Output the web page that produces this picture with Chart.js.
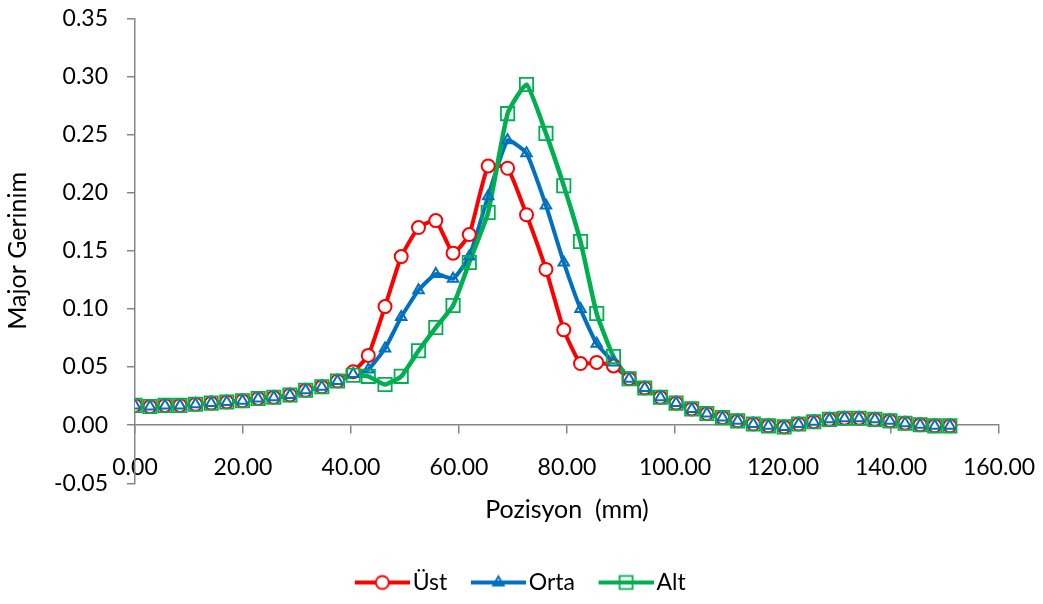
<!DOCTYPE html>
<html><head><meta charset="utf-8">
<script src="https://cdn.jsdelivr.net/npm/chart.js@4.4.1/dist/chart.umd.min.js"></script>
<style>html,body{margin:0;padding:0;background:#fff;} canvas{display:block;}</style>
</head><body>
<canvas id="c" width="1043" height="604"></canvas>
<script>
// Positions along the specimen (mm)
const positions = [0, 2.78, 5.56, 8.33, 11.2, 14.1, 17.0, 19.9, 22.8, 25.7, 28.7, 31.6, 34.6, 37.5,
  40.4, 43.2, 46.3, 49.3, 52.5, 55.7, 58.9, 61.9, 65.4, 69.0, 72.5, 76.1, 79.4, 82.5, 85.5, 88.6, 91.5,
  94.4, 97.3, 100.2, 103.1, 105.9, 108.8, 111.6, 114.5, 117.3, 120.2, 122.9, 125.7, 128.6, 131.4,
  134.1, 137.0, 139.8, 142.6, 145.4, 148.1, 150.9];

const ust = [0.017, 0.016, 0.017, 0.017, 0.018, 0.019, 0.020, 0.021, 0.023, 0.024, 0.026, 0.030, 0.033, 0.038,
  0.046, 0.060, 0.102, 0.145, 0.170, 0.176, 0.148, 0.164, 0.223, 0.221, 0.181, 0.134, 0.082, 0.053, 0.054, 0.051, 0.040,
  0.032, 0.024, 0.019, 0.014, 0.010, 0.0065, 0.0037, 0.001, -0.0006, -0.0015, 0.001, 0.003, 0.005, 0.006,
  0.006, 0.005, 0.0037, 0.0017, 0.0003, -0.0006, -0.0006];

const orta = [0.017, 0.016, 0.017, 0.017, 0.018, 0.019, 0.020, 0.021, 0.023, 0.024, 0.026, 0.030, 0.033, 0.038,
  0.044, 0.048, 0.066, 0.093, 0.116, 0.130, 0.126, 0.145, 0.197, 0.245, 0.234, 0.189, 0.140, 0.100, 0.070, 0.054, 0.040,
  0.032, 0.024, 0.019, 0.014, 0.010, 0.0065, 0.0037, 0.001, -0.0006, -0.0015, 0.001, 0.003, 0.005, 0.006,
  0.006, 0.005, 0.0037, 0.0017, 0.0003, -0.0006, -0.0006];

const alt = [0.017, 0.016, 0.017, 0.017, 0.018, 0.019, 0.020, 0.021, 0.023, 0.024, 0.026, 0.030, 0.033, 0.038,
  0.043, 0.042, 0.035, 0.042, 0.064, 0.084, 0.103, 0.140, 0.183, 0.268, 0.293, 0.251, 0.206, 0.158, 0.096, 0.059, 0.040,
  0.032, 0.024, 0.019, 0.014, 0.010, 0.0065, 0.0037, 0.001, -0.0006, -0.0015, 0.001, 0.003, 0.005, 0.006,
  0.006, 0.005, 0.0037, 0.0017, 0.0003, -0.0006, -0.0006];

const seriesNames = ['Üst', 'Orta', 'Alt'];
const xTickValues = [0, 20, 40, 60, 80, 100, 120, 140, 160];
const yTickValues = [-0.05, 0, 0.05, 0.10, 0.15, 0.20, 0.25, 0.30, 0.35];
const xTitle = 'Pozisyon  (mm)';
const yTitle = 'Major Gerinim';

const colors = ['#FF0000', '#0070C0', '#00B050'];
const styles = [
  {pointStyle: 'circle', radius: 6.5, bg: '#FFFFFF', bw: 2},
  {pointStyle: 'triangle', radius: 6, bg: 'rgba(0,0,0,0)', bw: 2},
  {pointStyle: 'rect', radius: 9.4, bg: 'rgba(0,0,0,0)', bw: 1.8}
];
const seriesData = [ust, orta, alt];
const toPts = arr => arr.map((v, i) => ({x: positions[i], y: v}));

// legend icons: line with marker
function makeIcon(i) {
  const cv = document.createElement('canvas');
  cv.width = 61; cv.height = 20;
  const g = cv.getContext('2d');
  g.strokeStyle = colors[i]; g.lineWidth = 4; g.lineCap = 'butt';
  g.beginPath(); g.moveTo(6, 10); g.lineTo(61, 10); g.stroke();
  const cx = 33.5, cy = 10;
  g.lineWidth = styles[i].bw;
  if (i === 0) {
    g.fillStyle = '#fff'; g.beginPath(); g.arc(cx, cy, 6.5, 0, Math.PI * 2); g.fill(); g.stroke();
  } else if (i === 1) {
    const r = 6; g.beginPath();
    for (let k = 0; k < 3; k++) { const a = -Math.PI / 2 + k * 2 * Math.PI / 3; const px = cx + r * Math.cos(a), py = cy + r * Math.sin(a); k ? g.lineTo(px, py) : g.moveTo(px, py); }
    g.closePath(); g.stroke();
  } else {
    g.strokeRect(cx - 6.5, cy - 6.5, 13, 13);
  }
  return cv;
}
const legendIcons = [0, 1, 2].map(makeIcon);

const datasets = [];
// lines first (drawn below), markers after (drawn on top) like the original
seriesData.forEach((arr, i) => {
  datasets.push({
    label: seriesNames[i], data: toPts(arr), borderColor: colors[i], backgroundColor: colors[i],
    borderWidth: i === 2 ? 4.5 : 4, pointRadius: 0, tension: 0.15, order: 6 - i, showLine: true
  });
});
seriesData.forEach((arr, i) => {
  datasets.push({
    label: seriesNames[i] + ' m', data: toPts(arr), showLine: false, order: 3 - i,
    pointStyle: styles[i].pointStyle, pointRadius: styles[i].radius, pointBorderColor: colors[i],
    pointBackgroundColor: styles[i].bg, pointBorderWidth: styles[i].bw, borderColor: colors[i]
  });
});

Chart.defaults.font.family = "Lato, 'Open Sans', sans-serif";
Chart.defaults.font.size = 23;
Chart.defaults.color = '#000';

const axisGray = '#868686';
new Chart(document.getElementById('c'), {
  type: 'scatter',
  data: {datasets},
  options: {
    responsive: false, animation: false, devicePixelRatio: 1,
    layout: {padding: {left: 44, right: 44, top: 18.3, bottom: 0}},
    scales: {
      x: {
        type: 'linear', position: {y: 0}, min: 0, max: 160,
        afterBuildTicks: s => { s.ticks = xTickValues.map(v => ({value: v})); },
        afterFit: s => { s.paddingLeft = 0; s.paddingRight = 0; },
        ticks: {callback: v => Number(v).toFixed(2), padding: 20.9, maxRotation: 0, autoSkip: false, color: '#000', font: {size: 23}},
        grid: {display: true, drawOnChartArea: false, drawTicks: true, tickLength: 8, color: axisGray, lineWidth: 1.5},
        border: {display: true, color: axisGray, width: 1.5}
      },
      y: {
        type: 'linear', min: -0.05, max: 0.35,
        afterBuildTicks: s => { s.ticks = yTickValues.map(v => ({value: v})); },
        afterFit: s => { s.width = 91; s.paddingTop = 0; s.paddingBottom = 0; },
        ticks: {callback: v => Number(v).toFixed(2), padding: 19, color: '#000', font: {size: 23}},
        grid: {display: true, drawOnChartArea: false, drawTicks: true, tickLength: 8, color: axisGray, lineWidth: 1.5},
        border: {display: true, color: axisGray, width: 1.5},
        title: {display: true, text: yTitle, color: '#000', font: {size: 25}, padding: {top: -41, bottom: 0}}
      }
    },
    plugins: {
      tooltip: {enabled: false},
      title: {
        display: true, text: xTitle, position: 'bottom', weight: 500, fullSize: false,
        font: {size: 25, weight: 'normal'}, color: '#000', padding: {top: 11.7, bottom: 20}
      },
      legend: {
        display: true, position: 'bottom',
        labels: {
          usePointStyle: true, pointStyleWidth: 44, padding: 26, color: '#000', font: {size: 23},
          generateLabels: chart => seriesNames.map((n, i) => ({
            text: n, pointStyle: legendIcons[i], datasetIndex: i, fillStyle: 'rgba(0,0,0,0)',
            strokeStyle: 'rgba(0,0,0,0)', lineWidth: 0, hidden: false, fontColor: '#000'
          }))
        }
      }
    }
  }
});
</script>
</body></html>
